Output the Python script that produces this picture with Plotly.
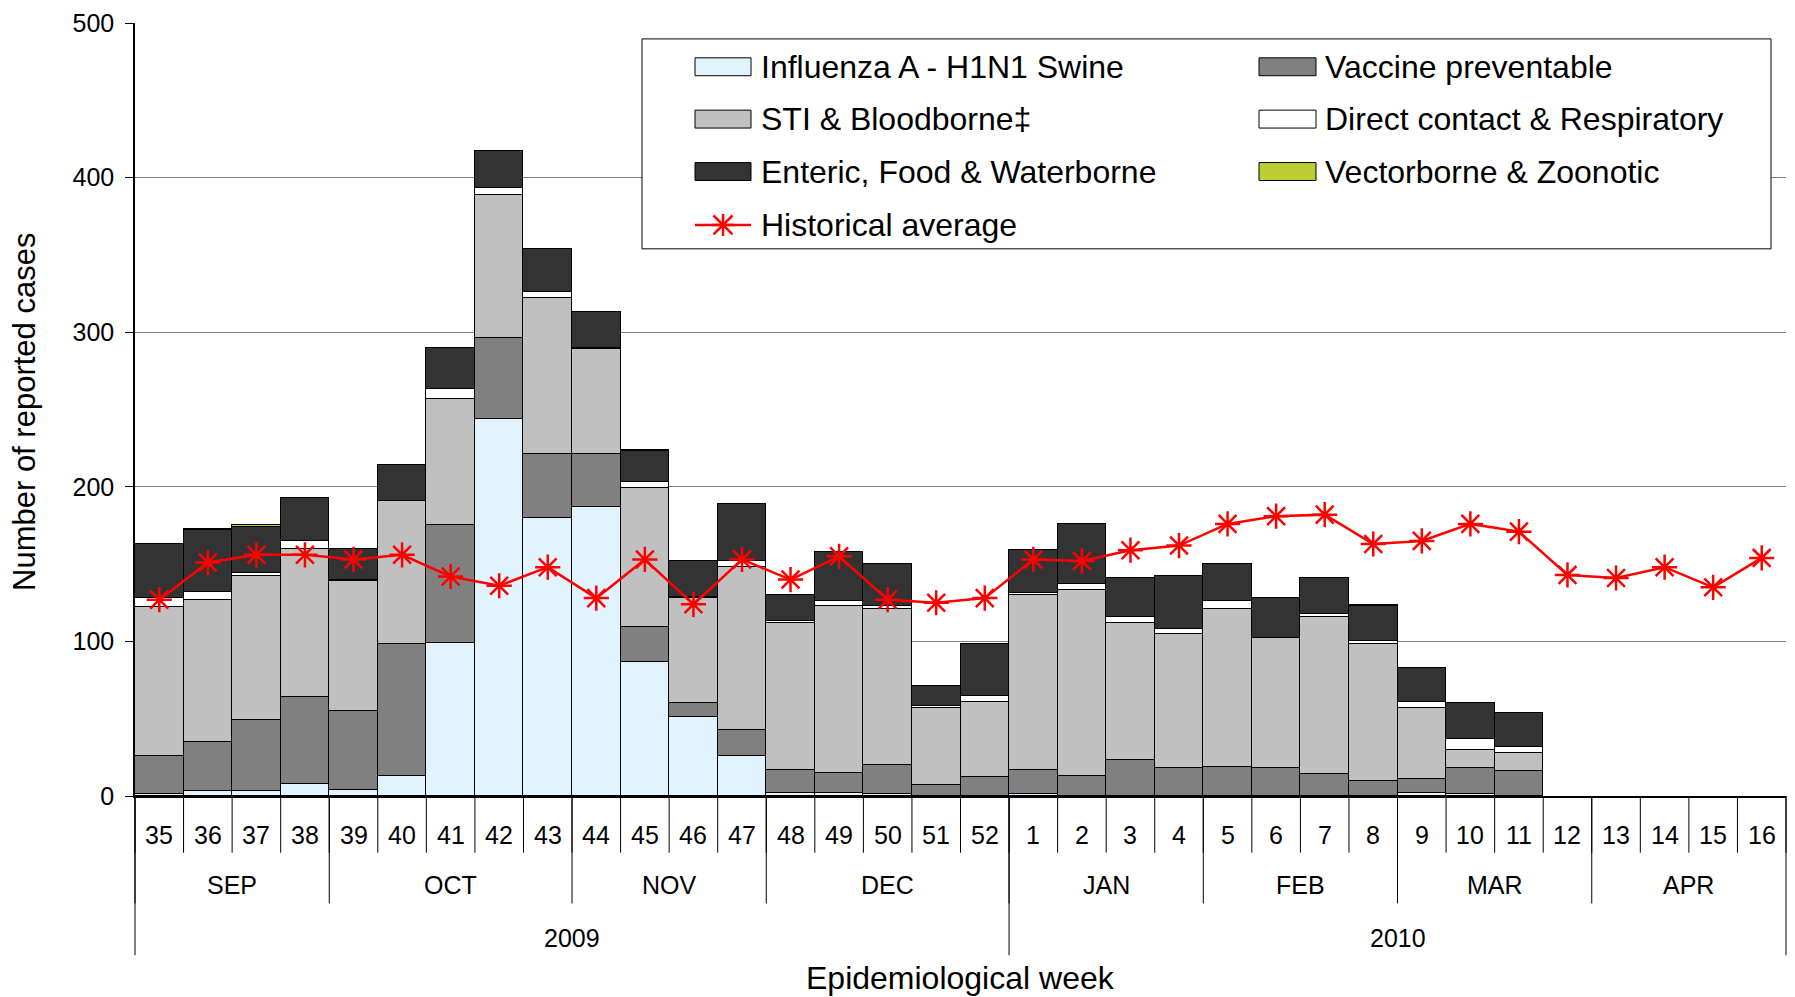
import plotly.graph_objects as go

# ---------------- data ----------------
weeks = ["35", "36", "37", "38", "39", "40", "41", "42", "43", "44", "45", "46", "47",
         "48", "49", "50", "51", "52", "1", "2", "3", "4", "5", "6", "7", "8", "9",
         "10", "11", "12", "13", "14", "15", "16"]
months = ["SEP", "OCT", "NOV", "DEC", "JAN", "FEB", "MAR", "APR"]
month_weeks = [4, 5, 4, 5, 4, 4, 4, 4]
years = ["2009", "2010"]
year_weeks = [18, 16]

h1n1 = [1, 3, 3, 8, 4, 13, 99, 244, 180, 187, 87, 51, 26,
        2, 2, 1, 0, 0, 1, 0, 0, 0, 0, 0, 0, 0, 2, 1, 0,
        None, None, None, None, None]
vaccine = [25, 32, 46, 56, 51, 85, 76, 52, 41, 34, 22, 9, 17,
           15, 13, 19, 7, 12, 16, 13, 23, 18, 19, 18, 14, 10, 9, 17, 16,
           None, None, None, None, None]
sti = [96, 92, 93, 96, 84, 93, 82, 93, 101, 68, 90, 68, 105,
       95, 108, 101, 50, 49, 113, 120, 89, 87, 102, 84, 102, 88, 46, 12, 12,
       None, None, None, None, None]
direct = [6, 5, 2, 5, 1, 0, 6, 4, 4, 1, 4, 1, 4,
          1, 3, 2, 1, 4, 1, 4, 4, 3, 5, 0, 2, 2, 4, 7, 4,
          None, None, None, None, None]
enteric = [35, 40, 30, 28, 20, 23, 27, 24, 28, 23, 20, 23, 37,
           17, 32, 27, 13, 33, 28, 39, 25, 34, 24, 26, 23, 23, 22, 23, 22,
           None, None, None, None, None]
vector = [None, 1, 1, None, None, None, None, None, None, None, 0.6, None, None,
          None, None, None, None, 0.6, None, None, None, None, None, None, None, 0.6, None, None, None,
          None, None, None, None, None]
historical = [127, 151, 156, 156, 153, 156, 142, 136, 148, 128, 153, 124, 153,
              140, 155, 127, 125, 128, 153, 152, 159, 162, 176, 181, 182, 163, 165,
              176, 171, 143, 141, 148, 135, 154]

series = [
    ("Influenza A - H1N1 Swine", h1n1, "#E1F3FD"),
    ("Vaccine preventable", vaccine, "#808080"),
    ("STI & Bloodborne\u2021", sti, "#C0C0C0"),
    ("Direct contact & Respiratory", direct, "#FFFFFF"),
    ("Enteric, Food & Waterborne", enteric, "#333333"),
    ("Vectorborne & Zoonotic", vector, "#BCD035"),
]

FONT = "Liberation Sans, Arial, sans-serif"
W, H = 1795, 997
ML, MR, MT, MB = 135, 9, 19, 201
PW = W - ML - MR
PH = H - MT - MB
BOT = H - MB


def px(X):
    return (X - ML) / PW


def py(Y):
    return (BOT - Y) / PH


n = len(weeks)
xs = list(range(n))

fig = go.Figure()
for name, vals, col in series:
    fig.add_trace(go.Bar(
        x=xs, y=vals, name=name, width=1,
        marker=dict(color=col, line=dict(color="black", width=1)),
        showlegend=False,
    ))

fig.add_trace(go.Scatter(
    x=xs, y=historical, name="Historical average", mode="lines+markers",
    line=dict(color="#FF0000", width=2.5),
    marker=dict(symbol="asterisk-open", size=21, color="#FF0000",
                line=dict(color="#FF0000", width=2.5)),
    showlegend=False,
))

shapes = []
annotations = []

# week labels and separators
for i, w in enumerate(weeks):
    annotations.append(dict(x=(i + 0.5) / n, y=py(835), xref="paper", yref="paper",
                            text=w, showarrow=False, font=dict(size=25, color="black", family=FONT),
                            xanchor="center", yanchor="middle"))
for k in range(n + 1):
    shapes.append(dict(type="line", xref="paper", yref="paper", x0=k / n, x1=k / n,
                       y0=0, y1=py(853), line=dict(color="black", width=1)))

# month labels and separators
start = 0
for m, cnt in zip(months, month_weeks):
    annotations.append(dict(x=(start + cnt / 2) / n, y=py(885), xref="paper", yref="paper",
                            text=m, showarrow=False, font=dict(size=25, color="black", family=FONT),
                            xanchor="center", yanchor="middle"))
    shapes.append(dict(type="line", xref="paper", yref="paper", x0=start / n, x1=start / n,
                       y0=0, y1=py(904), line=dict(color="black", width=1)))
    start += cnt

# year labels and separators
start = 0
for yv, cnt in zip(years, year_weeks):
    annotations.append(dict(x=(start + cnt / 2) / n, y=py(939), xref="paper", yref="paper",
                            text=yv, showarrow=False, font=dict(size=25, color="black", family=FONT),
                            xanchor="center", yanchor="middle"))
    shapes.append(dict(type="line", xref="paper", yref="paper", x0=start / n, x1=start / n,
                       y0=0, y1=py(956), line=dict(color="black", width=1)))
    start += cnt
shapes.append(dict(type="line", xref="paper", yref="paper", x0=1, x1=1,
                   y0=0, y1=py(956), line=dict(color="black", width=1)))

# axis titles
annotations.append(dict(x=0.5, y=py(979), xref="paper", yref="paper",
                        text="Epidemiological week", showarrow=False,
                        font=dict(size=32, color="black", family=FONT), xanchor="center", yanchor="middle"))
annotations.append(dict(x=px(25), y=py(410), xref="paper", yref="paper", textangle=-90,
                        text="Number of reported cases", showarrow=False,
                        font=dict(size=31, color="black", family=FONT), xanchor="center", yanchor="middle"))

# legend (drawn manually)
shapes.append(dict(type="rect", xref="paper", yref="paper", x0=px(642), x1=px(1771),
                   y0=py(246), y1=py(35), line=dict(color="black", width=1), fillcolor="white",
                   layer="above"))
rows = [63, 115.6, 168.3, 222]
cols = [(695, 751, 759), (1259, 1316, 1323)]
for idx, (name, vals, col) in enumerate(series):
    r, c = divmod(idx, 2)
    x0, x1, tx = cols[c]
    yc = rows[r]
    shapes.append(dict(type="rect", xref="paper", yref="paper", x0=px(x0), x1=px(x1),
                       y0=py(yc + 9), y1=py(yc - 9), fillcolor=col,
                       line=dict(color="black", width=1), layer="above"))
    annotations.append(dict(x=px(tx), y=py(yc), xref="paper", yref="paper", text=name,
                            showarrow=False, xanchor="left", yanchor="middle",
                            font=dict(size=32, color="black", family=FONT)))
yc = rows[3]
x0, x1, tx = cols[0]
shapes.append(dict(type="line", xref="paper", yref="paper", x0=px(x0), x1=px(x1),
                   y0=py(yc), y1=py(yc), line=dict(color="#FF0000", width=2.5), layer="above"))
cx = (x0 + x1) / 2
for dx, dy in [(0, 11), (9.5, 9.5), (-9.5, 9.5), (11, 0)]:
    shapes.append(dict(type="line", xref="paper", yref="paper", x0=px(cx - dx), x1=px(cx + dx),
                       y0=py(yc - dy), y1=py(yc + dy), line=dict(color="#FF0000", width=2.5),
                       layer="above"))
annotations.append(dict(x=px(tx), y=py(yc), xref="paper", yref="paper", text="Historical average",
                        showarrow=False, xanchor="left", yanchor="middle",
                        font=dict(size=32, color="black", family=FONT)))

fig.update_layout(
    width=W, height=H,
    margin=dict(l=ML, r=MR, t=MT, b=MB, pad=0),
    barmode="stack", bargap=0,
    plot_bgcolor="white", paper_bgcolor="white",
    font=dict(family=FONT, color="black"),
    showlegend=False,
    shapes=shapes, annotations=annotations,
    xaxis=dict(range=[-0.5, n - 0.5], showticklabels=False, ticks="", showgrid=False,
               zeroline=False, showline=True, linecolor="black", linewidth=1.5),
    yaxis=dict(range=[0, 500], dtick=100, tickfont=dict(size=25, color="black", family=FONT),
               ticks="outside", ticklen=8, tickcolor="black", showline=True, linecolor="black",
               linewidth=1.5, showgrid=True, gridcolor="#808080", gridwidth=1, zeroline=False,
               ticklabelstandoff=6, ticklabeloverflow="allow"),
)

fig.write_html("out.html", config={"displayModeBar": False},
               post_script="document.body.style.margin='0';")
